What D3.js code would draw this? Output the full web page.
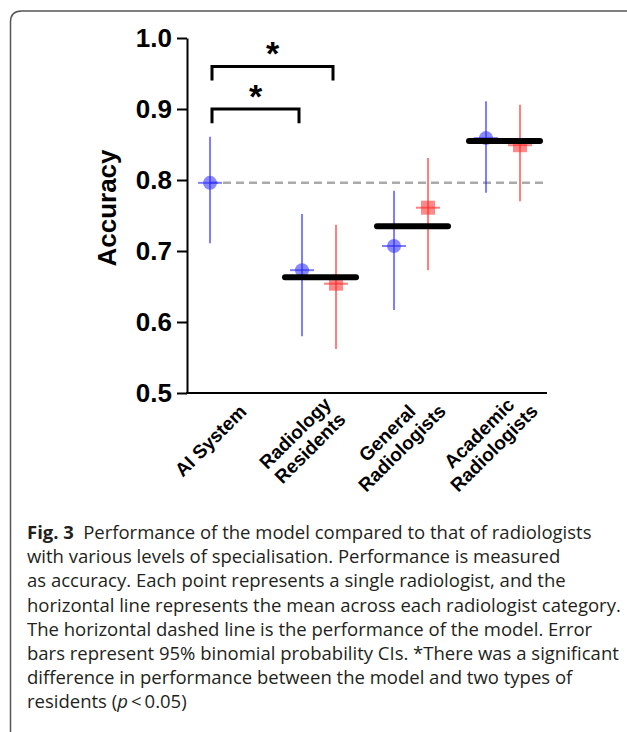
<!DOCTYPE html>
<html>
<head>
<meta charset="utf-8">
<script src="https://cdn.jsdelivr.net/npm/d3@7"></script>
<style>
  body { margin: 0; background: #fff; }
  svg { display: block; }
</style>
</head>
<body>
<div id="chart"></div>
<script>
// values
var categories = [["AI System"], ["Radiology", "Residents"], ["General", "Radiologists"], ["Academic", "Radiologists"]];
var blueAcc = [0.796, 0.673, 0.707, 0.859];
var blueLo = [0.711, 0.580, 0.617, 0.782];
var blueHi = [0.861, 0.752, 0.785, 0.911];
var redAcc = [null, 0.654, 0.761, 0.849];
var redLo = [null, 0.562, 0.673, 0.770];
var redHi = [null, 0.737, 0.831, 0.906];
var groupMean = [null, 0.663, 0.735, 0.855];
var modelAcc = 0.796;
var yTicks = [0.5, 0.6, 0.7, 0.8, 0.9, 1.0];
// significance brackets: [from group, to group, to series, level]
var sigPairs = [[0, 1, "blue", 0.90], [0, 1, "red", 0.96]];
var caption = [
    [["Fig. 3", true], ["\u2002Performance of the model compared to that of radiologists", false]],
    [["with various levels of specialisation. Performance is measured", false]],
    [["as accuracy. Each point represents a single radiologist, and the", false]],
    [["horizontal line represents the mean across each radiologist category.", false]],
    [["The horizontal dashed line is the performance of the model. Error", false]],
    [["bars represent 95% binomial probability CIs. *There was a significant", false]],
    [["difference in performance between the model and two types of", false]],
    [["residents (", false], ["p", false, true], ["\u2009<\u20090.05)", false]]
];

var w = 627, h = 732;
var svg = d3.select("#chart").append("svg")
    .attr("width", w)
    .attr("height", h);

// frame
svg.append("path")
    .attr("d", "M10.5," + h + " V22 Q10.5,11 21.5,11 H" + w)
    .attr("fill", "none")
    .attr("stroke", "#555")
    .attr("stroke-width", 1.5);

var yscale = d3.scaleLinear().domain([0.5, 1.0]).range([393, 38]);
var xscale = d3.scaleLinear().domain([0, 3]).range([210, 486]);
var redOff = 34;

var blue = "rgba(40,40,255,0.55)";
var blueLine = "rgba(40,40,255,0.6)";
var red = "rgba(255,40,40,0.55)";
var redLine = "rgba(255,40,40,0.6)";

// axes
var yaxis = d3.axisLeft(yscale)
    .tickValues(yTicks)
    .tickFormat(d3.format(".1f"))
    .tickSize(10)
    .tickPadding(5)
    .tickSizeOuter(0);
var gy = svg.append("g")
    .attr("transform", "translate(187,0)")
    .call(yaxis);
gy.select(".domain").attr("stroke-width", 2);
gy.selectAll(".tick line").attr("stroke-width", 2);
gy.selectAll(".tick text")
    .attr("font-family", "Liberation Sans, Arial, sans-serif")
    .attr("font-weight", "bold")
    .attr("font-size", 26)
    .attr("fill", "#000");

svg.append("line")
    .attr("x1", 186).attr("x2", 547)
    .attr("y1", yscale(0.5)).attr("y2", yscale(0.5))
    .attr("stroke", "#000").attr("stroke-width", 2);

svg.append("text")
    .attr("transform", "translate(116," + 208 + ") rotate(-90)")
    .attr("text-anchor", "middle")
    .attr("font-family", "Liberation Sans, Arial, sans-serif")
    .attr("font-weight", "bold")
    .attr("font-size", 26)
    .text("Accuracy");

// x labels
var lab = svg.selectAll(".xlab")
    .data(categories)
    .enter().append("text")
    .attr("class", "xlab")
    .attr("transform", function(d, i) { return "translate(" + (xscale(i) + 1) + ",441) rotate(-45)"; })
    .attr("text-anchor", "middle")
    .attr("font-family", "Liberation Sans, Arial, sans-serif")
    .attr("font-weight", "bold")
    .attr("font-size", 19);
lab.selectAll("tspan")
    .data(function(d) { return d.map(function(s, j) { return [s, j, d.length]; }); })
    .enter().append("tspan")
    .attr("x", 0)
    .attr("y", function(d) { return (d[1] - (d[2] - 1) / 2) * 21 + 6; })
    .text(function(d) { return d[0]; });

// model dashed line
svg.append("line")
    .attr("x1", xscale(0)).attr("x2", xscale(3) + redOff + 25)
    .attr("y1", yscale(modelAcc)).attr("y2", yscale(modelAcc))
    .attr("stroke", "#aaa")
    .attr("stroke-width", 2.5)
    .attr("stroke-dasharray", "8,5");

// error bars
function drawSeries(acc, lo, hi, off, fill, lineCol, shape) {
    var idx = d3.range(acc.length).filter(function(i) { return acc[i] !== null; });
    var g = svg.append("g");
    g.selectAll(".err").data(idx).enter().append("line")
        .attr("x1", function(i) { return xscale(i) + off; })
        .attr("x2", function(i) { return xscale(i) + off; })
        .attr("y1", function(i) { return yscale(lo[i]); })
        .attr("y2", function(i) { return yscale(hi[i]); })
        .attr("stroke", lineCol)
        .attr("stroke-width", 2);
    if (shape === "circle") {
        g.selectAll(".pt").data(idx).enter().append("circle")
            .attr("cx", function(i) { return xscale(i) + off; })
            .attr("cy", function(i) { return yscale(acc[i]); })
            .attr("r", 7)
            .attr("fill", fill);
    } else {
        g.selectAll(".pt").data(idx).enter().append("rect")
            .attr("x", function(i) { return xscale(i) + off - 7; })
            .attr("y", function(i) { return yscale(acc[i]) - 7; })
            .attr("width", 14)
            .attr("height", 14)
            .attr("fill", fill);
    }
    g.selectAll(".dash").data(idx).enter().append("line")
        .attr("x1", function(i) { return xscale(i) + off - 12; })
        .attr("x2", function(i) { return xscale(i) + off + 12; })
        .attr("y1", function(i) { return yscale(acc[i]); })
        .attr("y2", function(i) { return yscale(acc[i]); })
        .attr("stroke", lineCol)
        .attr("stroke-width", 2);
}
drawSeries(blueAcc, blueLo, blueHi, 0, blue, blueLine, "circle");
drawSeries(redAcc, redLo, redHi, redOff, red, redLine, "square");

// group means
svg.selectAll(".mean")
    .data(d3.range(groupMean.length).filter(function(i) { return groupMean[i] !== null; }))
    .enter().append("line")
    .attr("x1", function(i) { return xscale(i) - 17; })
    .attr("x2", function(i) { return xscale(i) + redOff + 20; })
    .attr("y1", function(i) { return yscale(groupMean[i]); })
    .attr("y2", function(i) { return yscale(groupMean[i]); })
    .attr("stroke", "#000")
    .attr("stroke-width", 6)
    .attr("stroke-linecap", "round");

// significance brackets
sigPairs.forEach(function(p) {
    var x1 = xscale(p[0]) + 2;
    var x2 = xscale(p[1]) + (p[2] === "red" ? redOff : 0) - 3;
    var y = yscale(p[3]);
    var yl = yscale(p[3] - 0.02);
    svg.append("path")
        .attr("d", "M" + x1 + "," + yl + " V" + y + " H" + x2 + " V" + yl)
        .attr("fill", "none")
        .attr("stroke", "#000")
        .attr("stroke-width", 3);
    svg.append("text")
        .attr("x", (x1 + x2) / 2)
        .attr("y", y - 1)
        .attr("text-anchor", "middle")
        .attr("font-family", "Liberation Sans, Arial, sans-serif")
        .attr("font-weight", "bold")
        .attr("font-size", 34)
        .text("*");
});

// caption
var cap = svg.append("text")
    .attr("font-family", "Open Sans, sans-serif")
    .attr("font-size", 18.5)
    .attr("fill", "#231f20");
caption.forEach(function(line, li) {
    line.forEach(function(seg, si) {
        var t = cap.append("tspan").text(seg[0]);
        if (si === 0) t.attr("x", 27).attr("y", 539 + li * 24.2);
        if (seg[1]) t.attr("font-weight", "bold");
        if (seg[2]) t.attr("font-style", "italic");
    });
});
</script>
</body>
</html>
